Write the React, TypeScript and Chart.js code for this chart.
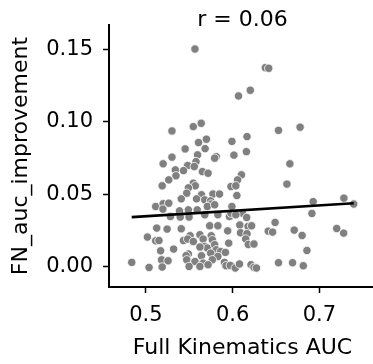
import React, { useEffect, useRef } from 'react';
import { Chart, registerables } from 'chart.js';

Chart.register(...registerables);

const titleText = 'r = 0.06';
const xLabel = 'Full Kinematics AUC';
const yLabel = 'FN_auc_improvement';

const xTicks = [0.5, 0.6, 0.7];
const yTicks = [0, 0.05, 0.1, 0.15];

const xValues = [
  0.5566, 0.6377, 0.6416, 0.6068, 0.6204, 0.6529, 0.6778, 0.5992, 0.6166, 0.5301,
  0.5547, 0.5638, 0.5607, 0.5698, 0.5453, 0.5683,
  0.5596, 0.5811, 0.5793, 0.5301, 0.5199, 0.5340, 0.5482, 0.5578, 0.5558, 0.5652,
  0.5717, 0.5434, 0.5347, 0.5264, 0.5188, 0.5547, 0.5570, 0.5490, 0.5471, 0.5641,
  0.5773, 0.5849, 0.5408, 0.5584, 0.5679, 0.5747, 0.5754, 0.5113, 0.5199, 0.5264,
  0.5196, 0.5283, 0.5388, 0.5490, 0.5592, 0.5709, 0.5793, 0.5830, 0.5963, 0.5396,
  0.5498, 0.5679, 0.5981, 0.5125, 0.5245, 0.5408, 0.5736, 0.5830, 0.5943, 0.5510,
  0.5623, 0.5754, 0.5018, 0.5113, 0.5151, 0.5434, 0.5482, 0.5547, 0.5660, 0.5766,
  0.5679, 0.5709, 0.5793, 0.5170, 0.5320, 0.5623, 0.5811, 0.5861, 0.5490, 0.5747,
  0.5830, 0.5917, 0.5181, 0.5256, 0.5464, 0.5471, 0.5566, 0.5641, 0.5660, 0.5766,
  0.5906, 0.4837, 0.5037, 0.5188, 0.5498, 0.5623, 0.5717, 0.5924, 0.5981, 0.5992,
  0.5955,
  0.6015, 0.6159, 0.6660, 0.6102, 0.6057, 0.6037, 0.6626, 0.6049, 0.6929, 0.7283,
  0.7396, 0.6914, 0.6113, 0.6037, 0.6162, 0.6490, 0.6083, 0.6178, 0.6219, 0.6411,
  0.6461, 0.6710, 0.6801, 0.7200, 0.7280, 0.6091, 0.6166, 0.6151, 0.6181, 0.6246,
  0.6857, 0.5974, 0.6031, 0.6079, 0.6212, 0.6246, 0.6275, 0.6529, 0.6691, 0.6815,
];

const yValues = [
  0.1502, 0.1373, 0.1369, 0.1178, 0.1217, 0.0940, 0.0962, 0.0864, 0.0897, 0.0936,
  0.0966, 0.0989, 0.0856, 0.0879, 0.0812, 0.0814,
  0.0771, 0.0759, 0.0748, 0.0755, 0.0709, 0.0667, 0.0697, 0.0724, 0.0690, 0.0655,
  0.0644, 0.0662, 0.0626, 0.0598, 0.0557, 0.0575, 0.0557, 0.0543, 0.0506, 0.0495,
  0.0500, 0.0500, 0.0467, 0.0467, 0.0460, 0.0453, 0.0431, 0.0414, 0.0433, 0.0437,
  0.0396, 0.0345, 0.0384, 0.0391, 0.0391, 0.0414, 0.0426, 0.0357, 0.0345, 0.0341,
  0.0341, 0.0357, 0.0368, 0.0265, 0.0258, 0.0260, 0.0281, 0.0281, 0.0246, 0.0212,
  0.0219, 0.0212, 0.0203, 0.0177, 0.0179, 0.0179, 0.0189, 0.0172, 0.0189, 0.0184,
  0.0138, 0.0127, 0.0150, 0.0108, 0.0120, 0.0134, 0.0115, 0.0103, 0.0086, 0.0092,
  0.0069, 0.0097, 0.0046, 0.0039, 0.0074, 0.0046, 0.0034, 0.0074, 0.0023, 0.0046,
  0.0028, 0.0028, -0.0007, -0.0004, 0.0000, 0.0000, 0.0012, 0.0005, 0.0552, 0.0414,
  0.0161,
  0.0769, 0.0793, 0.0709, 0.0633, 0.0598, 0.0557, 0.0569, 0.0490, 0.0448, 0.0472,
  0.0431, 0.0366, 0.0368, 0.0357, 0.0338, 0.0304, 0.0286, 0.0276, 0.0281, 0.0244,
  0.0237, 0.0251, 0.0214, 0.0262, 0.0230, 0.0233, 0.0226, 0.0189, 0.0152, 0.0155,
  0.0110, 0.0007, -0.0011, 0.0017, 0.0012, -0.0007, -0.0011, 0.0026, 0.0026, 0.0005,
];

const fitX = [0.4837, 0.7396];
const fitY = [0.0341, 0.0437];

const FONT = 'DejaVu Sans';

export default function App() {
  const ref = useRef<HTMLCanvasElement>(null);

  useEffect(() => {
    if (!ref.current) return;
    const titlePlugin = {
      id: 'topTitle',
      afterDraw(chart: any) {
        const ctx = chart.ctx;
        const { left, right } = chart.chartArea;
        ctx.save();
        ctx.font = `22px "${FONT}"`;
        ctx.fillStyle = '#000';
        ctx.textAlign = 'center';
        ctx.textBaseline = 'middle';
        ctx.fillText(titleText, (left + right) / 2, 20);
        ctx.restore();
      },
    };

    const chart = new Chart(ref.current, {
      type: 'scatter',
      data: {
        datasets: [
          {
            type: 'line',
            data: fitX.map((x, i) => ({ x, y: fitY[i] })),
            borderColor: '#000',
            borderWidth: 2.6,
            pointRadius: 0,
            fill: false,
            order: 0,
          } as any,
          {
            type: 'scatter',
            data: xValues.map((x, i) => ({ x, y: yValues[i] })),
            backgroundColor: '#808080',
            borderColor: '#ffffff',
            borderWidth: 0.8,
            pointRadius: 4.2,
            order: 1,
          },
        ],
      },
      options: {
        responsive: false,
        animation: false,
        layout: { padding: { top: 25, left: 0, right: 0, bottom: 0 } },
        plugins: { legend: { display: false }, tooltip: { enabled: false } },
        scales: {
          x: {
            type: 'linear',
            min: 0.4575,
            max: 0.7653,
            afterFit(s: any) { s.height = 77; },
            afterBuildTicks(s: any) { s.ticks = xTicks.map((v) => ({ value: v })); },
            grid: { display: true, drawOnChartArea: false, drawTicks: true, tickLength: 6, tickWidth: 1.5, tickColor: '#000' },
            border: { display: true, color: '#000', width: 2 },
            ticks: {
              padding: 10, color: '#000', font: { family: FONT, size: 21 },
              callback: (v: any) => Number(v).toFixed(1), maxRotation: 0, autoSkip: false,
            },
            title: { display: true, text: xLabel, color: '#000', font: { family: FONT, size: 22 }, padding: { top: 4, bottom: 3 } },
          },
          y: {
            type: 'linear',
            min: -0.0142,
            max: 0.1668,
            afterFit(s: any) { s.width = 109; },
            afterBuildTicks(s: any) { s.ticks = yTicks.map((v) => ({ value: v })); },
            grid: { display: true, drawOnChartArea: false, drawTicks: true, tickLength: 6, tickWidth: 1.5, tickColor: '#000' },
            border: { display: true, color: '#000', width: 2 },
            ticks: {
              padding: 10, color: '#000', font: { family: FONT, size: 21 },
              callback: (v: any) => Number(v).toFixed(2), autoSkip: false,
            },
            title: { display: true, text: yLabel, color: '#000', font: { family: FONT, size: 22 }, padding: { top: 8, bottom: 4 } },
          },
        },
      },
      plugins: [titlePlugin],
    });
    return () => chart.destroy();
  }, []);

  return (
    <div style={{ position: 'absolute', left: 0, top: 0, width: 373, height: 364, overflow: 'hidden', background: '#fff' }}>
      <canvas ref={ref} width={381} height={364} style={{ display: 'block' }} />
    </div>
  );
}
